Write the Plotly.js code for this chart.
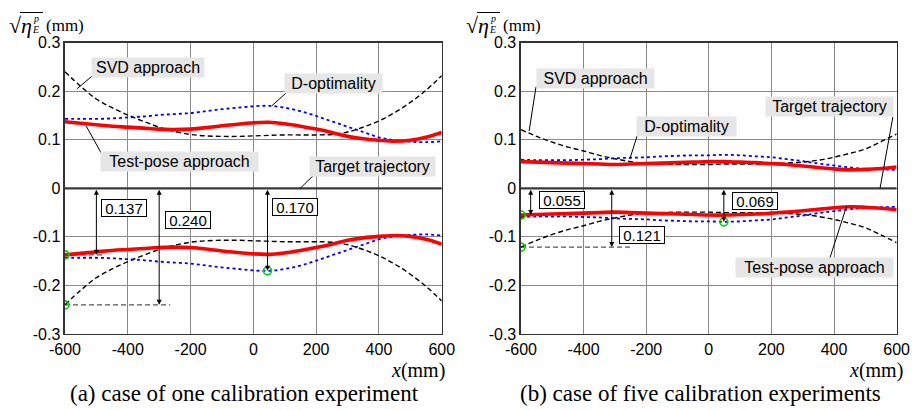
<!DOCTYPE html>
<html><head><meta charset="utf-8">
<script src="https://cdn.plot.ly/plotly-3.0.1.min.js"></script>
<style>html,body{margin:0;padding:0;background:#fff}#chart{width:914px;height:410px}</style>
</head><body><div id="chart"></div>
<script>
// ---------- data ----------
const xPos = [-600,-550,-500,-450,-400,-350,-300,-250,-200,-150,-100,-50,0,50,100,150,200,250,300,350,400,450,500,550,600];

// (a) one calibration experiment
const svdOne = [0.240,0.210,0.184,0.166,0.151,0.138,0.126,0.117,0.111,0.108,0.107,0.107,0.108,0.109,0.110,0.110,0.110,0.111,0.116,0.126,0.139,0.156,0.177,0.202,0.232];
const dOptOne = [0.143,0.143,0.143,0.144,0.146,0.148,0.151,0.153,0.155,0.159,0.163,0.166,0.169,0.170,0.166,0.159,0.149,0.138,0.127,0.116,0.105,0.099,0.096,0.095,0.097];
const testPoseOne = [0.137,0.134,0.131,0.128,0.126,0.124,0.122,0.121,0.122,0.125,0.129,0.132,0.135,0.136,0.133,0.128,0.122,0.115,0.107,0.102,0.099,0.097,0.099,0.105,0.115];

// (b) five calibration experiments
const svdFive = [0.121,0.107,0.095,0.085,0.077,0.068,0.061,0.055,0.051,0.050,0.049,0.049,0.049,0.050,0.050,0.050,0.051,0.052,0.054,0.058,0.064,0.072,0.081,0.096,0.112];
const dOptFive = [0.059,0.058,0.058,0.058,0.059,0.060,0.062,0.063,0.064,0.066,0.067,0.068,0.068,0.069,0.068,0.066,0.064,0.060,0.056,0.051,0.047,0.043,0.040,0.039,0.038];
const testPoseFive = [0.055,0.054,0.053,0.052,0.051,0.050,0.049,0.050,0.051,0.052,0.053,0.054,0.055,0.055,0.054,0.053,0.051,0.049,0.046,0.043,0.040,0.038,0.039,0.041,0.044];

// target trajectory
const targetX = [-600, 600];
const targetY = [0, 0];

// marked maxima (value, x position of the circle, x position of the arrow, end of dashed guide)
const maxValsOne = [0.137, 0.240, 0.170];
const maxXOne = [-600, -600, 45];
const arrowXOne = [-500, -300, 45];
const guideEndOne = [-472, -265, 45];

const maxValsFive = [0.055, 0.121, 0.069];
const maxXFive = [-600, -600, 48];
const arrowXFive = [-569, -310, 48];
const guideEndFive = [-560, -246, 48];

// tick labels
const xTickVals = [-600,-400,-200,0,200,400,600];
const xTickText = ['-600','-400','-200','0','200','400','600'];
const yTickVals = [-0.3,-0.2,-0.1,0,0.1,0.2,0.3];
const yTickText = ['-0.3','-0.2','-0.1','0','0.1','0.2','0.3'];

const captions = ['(a) case of one calibration experiment', '(b) case of five calibration experiments'];
const seriesNames = ['SVD approach', 'D-optimality', 'Test-pose approach', 'Target trajectory'];

// ---------- build ----------
const neg = a => a.map(v => -v);
const traces = [];
function panel(xa, ya, svd, dopt, tp, mVals, mX, gEnd) {
  traces.push({x: targetX, y: targetY, xaxis: xa, yaxis: ya, mode: 'lines', line: {color: '#3a3a3a', width: 2.2}, hoverinfo: 'skip'});
  mVals.forEach((v, i) => {
    traces.push({x: [mX[i], gEnd[i]], y: [-v, -v], xaxis: xa, yaxis: ya, mode: 'lines', line: {color: '#555', width: 1.1, dash: '5px,3px'}});
  });
  [svd, neg(svd)].forEach(arr => traces.push({x: xPos, y: arr, xaxis: xa, yaxis: ya, mode: 'lines', line: {color: '#000', width: 1.4, dash: '5px,3px', shape: 'spline'}}));
  [dopt, neg(dopt)].forEach(arr => traces.push({x: xPos, y: arr, xaxis: xa, yaxis: ya, mode: 'lines', line: {color: '#0000ff', width: 1.8, dash: 'dot', shape: 'spline'}}));
  [tp, neg(tp)].forEach(arr => traces.push({x: xPos, y: arr, xaxis: xa, yaxis: ya, mode: 'lines', line: {color: '#ff0000', width: 3.6, shape: 'spline'}}));
  traces.push({x: mX, y: neg(mVals), xaxis: xa, yaxis: ya, mode: 'markers', marker: {symbol: 'circle-open', size: 8, color: '#00d000', line: {width: 1.6, color: '#00d000'}}});
}
panel('x', 'y', svdOne, dOptOne, testPoseOne, maxValsOne, maxXOne, guideEndOne);
panel('x2', 'y2', svdFive, dOptFive, testPoseFive, maxValsFive, maxXFive, guideEndFive);

const tickFont = {family: 'Liberation Sans, Arial, sans-serif', size: 16, color: '#000'};
function xAxis(dom, anchor) {
  return {domain: dom, anchor: anchor, range: [-600, 600], tickvals: xTickVals, ticktext: xTickText,
    showgrid: true, gridcolor: '#8a8a8a', gridwidth: 1, showline: true, linecolor: '#333', linewidth: 1.5,
    mirror: true, zeroline: false, ticks: '', tickfont: tickFont, fixedrange: true};
}
function yAxis(anchor) {
  return {domain: [0.1854, 0.8959], anchor: anchor, range: [-0.3, 0.3], tickvals: yTickVals, ticktext: yTickText,
    showgrid: true, gridcolor: '#8a8a8a', gridwidth: 1, showline: true, linecolor: '#333', linewidth: 1.5,
    mirror: true, zeroline: false, ticks: '', tickfont: tickFont, fixedrange: true};
}

const annotations = [];
const shapes = [];
const labelFont = {family: 'Liberation Sans, Arial, sans-serif', size: 16, color: '#000'};
function grayLabel(xa, ya, text, x, y, w) {
  annotations.push({xref: xa, yref: ya, x: x, y: y, text: text, showarrow: false, font: labelFont,
    bgcolor: '#e6e6e6', borderpad: 1, width: w, height: 17, xanchor: 'center', yanchor: 'middle'});
}
function leader(xa, ya, x0, y0, x1, y1) {
  shapes.push({type: 'line', xref: xa, yref: ya, x0: x0, y0: y0, x1: x1, y1: y1, line: {color: '#000', width: 1}});
}
function numBox(xa, ya, val, x, y) {
  annotations.push({xref: xa, yref: ya, x: x, y: y, text: val.toFixed(3), showarrow: false,
    font: {family: 'Liberation Sans, Arial, sans-serif', size: 15, color: '#000'},
    bgcolor: '#fff', bordercolor: '#000', borderwidth: 1, borderpad: 1, width: 42, height: 14});
}
function dblArrow(xa, ya, x, val) {
  annotations.push({xref: xa, yref: ya, axref: xa, ayref: ya, x: x, y: -val, ax: x, ay: 0, text: '',
    showarrow: true, arrowhead: 2, startarrowhead: 2, arrowside: 'end+start', arrowsize: 1, startarrowsize: 1,
    arrowwidth: 1, arrowcolor: '#000', standoff: 0, startstandoff: 0});
}

// panel (a)
grayLabel('x', 'y', seriesNames[0], -336, 0.249, 110);
leader('x', 'y', -562, 0.205, -514, 0.231);
grayLabel('x', 'y', seriesNames[1], 255, 0.216, 95);
leader('x', 'y', 59, 0.170, 107, 0.198);
grayLabel('x', 'y', seriesNames[2], -235, 0.0556, 155);
leader('x', 'y', -533, 0.129, -485, 0.073);
grayLabel('x', 'y', seriesNames[3], 380, 0.0453, 123);
leader('x', 'y', 149, 0.0, 190, 0.0257);
const numPosOne = [[-412, -0.040], [-208, -0.065], [134, -0.039]];
maxValsOne.forEach((v, i) => { dblArrow('x', 'y', arrowXOne[i], v); numBox('x', 'y', v, numPosOne[i][0], numPosOne[i][1]); });

// panel (b)
grayLabel('x2', 'y2', seriesNames[0], -362, 0.2263, 115);
leader('x2', 'y2', -574, 0.118, -552, 0.209);
grayLabel('x2', 'y2', seriesNames[1], -71, 0.1276, 97);
leader('x2', 'y2', -252, 0.061, -229, 0.108);
grayLabel('x2', 'y2', seriesNames[3], 385, 0.1677, 125);
leader('x2', 'y2', 588, 0.147, 547, 0.0);
grayLabel('x2', 'y2', seriesNames[2], 337, -0.1626, 155);
leader('x2', 'y2', 440, -0.037, 387, -0.143);
const numPosFive = [[-469, -0.0247], [-213, -0.0957], [147, -0.0257]];
maxValsFive.forEach((v, i) => { dblArrow('x2', 'y2', arrowXFive[i], v); numBox('x2', 'y2', v, numPosFive[i][0], numPosFive[i][1]); });

// y-axis labels  sqrt(eta_E^p) (mm)
const W = 914, H = 410;
const serif = 'Liberation Serif, Times New Roman, serif';
function yLabel(off) {
  const P = (px, py) => ({x: (px + off) / W, y: 1 - py / H});
  const add = (px, py, text, size) => {
    const p = P(px, py);
    annotations.push({xref: 'paper', yref: 'paper', x: p.x, y: p.y, text: text, showarrow: false,
      xanchor: 'left', yanchor: 'middle', borderpad: 0, font: {family: serif, size: size, color: '#000'}});
  };
  add(8, 25.5, '√<i>η</i>', 22);
  add(32, 18, '<i>p</i>', 10);
  add(31, 30, '<i>E</i>', 10);
  add(45, 25, '(mm)', 17);
  const a = P(20, 12.5), b = P(43, 12.5);
  shapes.push({type: 'line', xref: 'paper', yref: 'paper', x0: a.x, y0: a.y, x1: b.x, y1: b.y, line: {color: '#000', width: 1}});
}
yLabel(0);
yLabel(457);

// x titles and captions
[[418, 0], [876, 1]].forEach(([px]) => {
  annotations.push({xref: 'paper', yref: 'paper', x: px / W, y: 1 - 370 / H, text: '<i>x</i>(mm)', showarrow: false,
    xanchor: 'center', yanchor: 'middle', font: {family: serif, size: 20, color: '#000'}});
});
[[244.5, 0], [700.5, 1]].forEach(([px, i]) => {
  annotations.push({xref: 'paper', yref: 'paper', x: px / W, y: 1 - 393 / H, text: captions[i], showarrow: false,
    xanchor: 'center', yanchor: 'middle', font: {family: serif, size: 23, color: '#000'}});
});

const layout = {
  width: W, height: H, margin: {l: 0, r: 0, t: 0, b: 0}, showlegend: false,
  paper_bgcolor: '#fff', plot_bgcolor: '#fff',
  xaxis: xAxis([0.0711, 0.4833], 'y'), yaxis: yAxis('x'),
  xaxis2: xAxis([0.5700, 0.9810], 'y2'), yaxis2: yAxis('x2'),
  annotations: annotations, shapes: shapes
};
Plotly.newPlot('chart', traces, layout, {displayModeBar: false, staticPlot: true});
</script></body></html>
